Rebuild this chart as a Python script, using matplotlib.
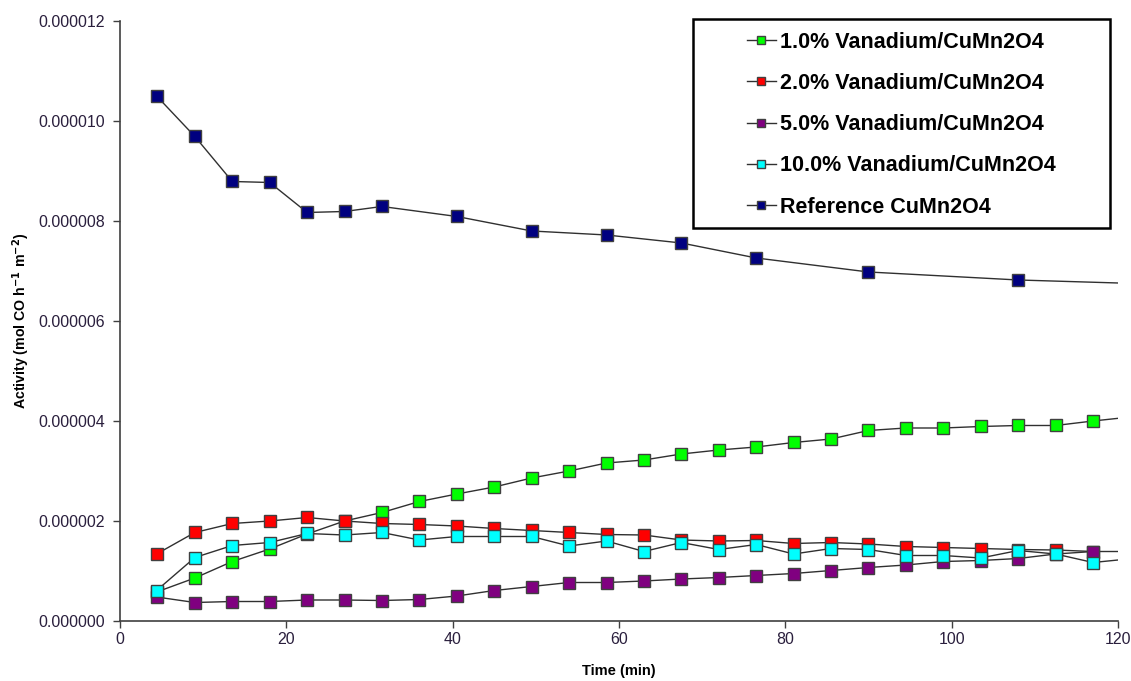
import matplotlib
matplotlib.use("Agg")
import matplotlib.pyplot as plt
from matplotlib.ticker import FixedLocator, FuncFormatter
from matplotlib.lines import Line2D
from matplotlib.patches import Rectangle

plt.rcParams['font.family'] = ['Liberation Sans', 'DejaVu Sans']

# time points (min); last value lies just beyond the axis limit (line runs off the edge)
t_fine = [4.4, 9.0, 13.5, 18.0, 22.5, 27.0, 31.5, 36.0, 40.5, 45.0, 49.5, 54.0, 58.5,
          63.0, 67.5, 72.0, 76.5, 81.0, 85.5, 90.0, 94.5, 99.0, 103.5, 108.0, 112.5, 117.0, 121.5]
t_ref = [4.4, 9.0, 13.5, 18.0, 22.5, 27.0, 31.5, 40.5, 49.5, 58.5, 67.5, 76.5, 90.0, 108.0, 126.0]

# activity values (x 1e-6 mol CO h^-1 m^-2)
v1 = [0.58, 0.86, 1.19, 1.44, 1.74, 2.00, 2.17, 2.39, 2.54, 2.68, 2.86, 3.00, 3.16,
      3.22, 3.34, 3.42, 3.48, 3.57, 3.64, 3.81, 3.86, 3.86, 3.89, 3.91, 3.91, 4.00, 4.08]
v2 = [1.34, 1.77, 1.95, 2.00, 2.07, 2.00, 1.95, 1.93, 1.90, 1.85, 1.81, 1.77, 1.73,
      1.72, 1.62, 1.60, 1.61, 1.55, 1.57, 1.54, 1.49, 1.47, 1.45, 1.43, 1.42, 1.39, 1.39]
v5 = [0.48, 0.37, 0.39, 0.39, 0.42, 0.42, 0.41, 0.43, 0.50, 0.61, 0.69, 0.77, 0.77,
      0.80, 0.84, 0.87, 0.91, 0.95, 1.01, 1.07, 1.12, 1.19, 1.21, 1.25, 1.34, 1.39]
v10 = [0.61, 1.27, 1.51, 1.57, 1.75, 1.72, 1.77, 1.62, 1.69, 1.69, 1.69, 1.50, 1.60,
       1.39, 1.57, 1.43, 1.53, 1.34, 1.45, 1.43, 1.31, 1.31, 1.26, 1.41, 1.34, 1.17, 1.245]
vref = [10.50, 9.69, 8.79, 8.77, 8.17, 8.19, 8.29, 8.09, 7.80, 7.72, 7.56, 7.26, 6.98, 6.82, 6.73]

labels = ['1.0% Vanadium/CuMn2O4', '2.0% Vanadium/CuMn2O4', '5.0% Vanadium/CuMn2O4',
          '10.0% Vanadium/CuMn2O4', 'Reference CuMn2O4']
colors = ['#00ff00', '#ff0000', '#800080', '#00ffff', '#000080']

yticks = [0, 2, 4, 6, 8, 10, 12]
xticks = [0, 20, 40, 60, 80, 100, 120]

fig = plt.figure(figsize=(11.31, 6.81), dpi=100)
ax = fig.add_axes([0.1061, 0.0881, 0.8824, 0.8811])

series = [(t_fine, v1), (t_fine, v2), (t_fine[:len(v5)], v5), (t_fine, v10), (t_ref, vref)]
for (t, v), lab, c in zip(series, labels, colors):
    ax.plot(t, [x * 1e-6 for x in v], color='#303030', lw=1.0, marker='s', ms=8,
            mfc=c, mec='#404040', mew=1.0, label=lab, clip_on=True)

ax.set_xlim(0, 120)
ax.set_ylim(0, 12e-6)
ax.xaxis.set_major_locator(FixedLocator(xticks))
ax.yaxis.set_major_locator(FixedLocator([y * 1e-6 for y in yticks]))
ax.yaxis.set_major_formatter(FuncFormatter(lambda y, p: f"{y:.6f}"))
ax.tick_params(axis='both', direction='out', length=5, width=1, color='#404040',
               labelsize=11.5, labelcolor='#2a1f3d')
ax.tick_params(axis='y', pad=6)
ax.tick_params(axis='x', pad=3)
for s in ['top', 'right']:
    ax.spines[s].set_visible(False)
for s in ['left', 'bottom']:
    ax.spines[s].set_color('#404040')
    ax.spines[s].set_linewidth(1.2)

ax.set_xlabel('Time (min)', fontsize=10.5, fontweight='bold')
ax.xaxis.set_label_coords(0.5, -0.072)
ax.set_ylabel('Activity (mol CO h$^{\\mathbf{-1}}$ m$^{\\mathbf{-2}}$)', fontsize=10.2,
              fontweight='bold')
ax.yaxis.set_label_coords(-0.088, 0.5)

# legend frame
fig.patches.append(Rectangle((0.6127, 0.6652), 0.3687, 0.3069, transform=fig.transFigure,
                             facecolor='white', edgecolor='black', lw=1.8, zorder=5))
hs = [Line2D([0], [0], color='#303030', lw=1.0, marker='s', ms=6, mfc=c, mec='#404040')
      for c in colors]
leg = fig.legend(hs, labels, loc='center', bbox_to_anchor=(0.7971, 0.8170),
                 prop={'weight': 'bold', 'size': 15.5}, frameon=False,
                 handlelength=1.35, handletextpad=0.2, labelspacing=0.94,
                 borderpad=0, borderaxespad=0)
leg.set_zorder(6)

fig.savefig('out.png', dpi=100)
